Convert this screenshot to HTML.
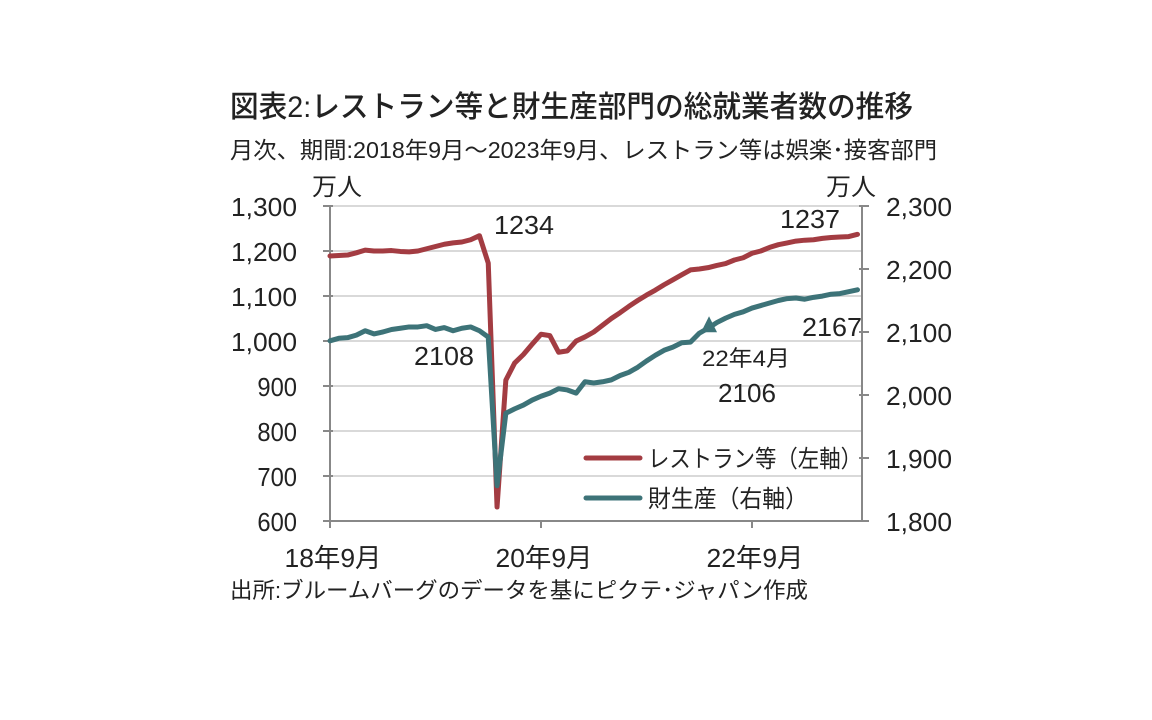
<!DOCTYPE html>
<html><head><meta charset="utf-8">
<style>
html,body{margin:0;padding:0;background:#fff;width:1152px;height:720px;overflow:hidden}
svg text{font-family:"Liberation Sans","Noto Sans CJK JP",sans-serif;fill:#222}
</style></head>
<body>
<svg id="chart" width="1152" height="720" viewBox="0 0 1152 720" xmlns="http://www.w3.org/2000/svg">
<text x="230" y="117" font-size="30" font-weight="500" textLength="683" lengthAdjust="spacingAndGlyphs">図表2:レストラン等と財生産部門の総就業者数の推移</text>
<text x="230" y="158" font-size="23" textLength="707" lengthAdjust="spacingAndGlyphs">月次、期間:2018年9月～2023年9月、レストラン等は娯楽･接客部門</text>
<text x="312" y="195" font-size="24" textLength="50" lengthAdjust="spacingAndGlyphs">万人</text>
<text x="826" y="195" font-size="24" textLength="50" lengthAdjust="spacingAndGlyphs">万人</text>
<g id="grid"></g>
<g id="axes"></g>
<g id="series"></g>
<text x="494" y="234" font-size="26" textLength="60" lengthAdjust="spacingAndGlyphs">1234</text>
<text x="414" y="365" font-size="26" textLength="60" lengthAdjust="spacingAndGlyphs">2108</text>
<text x="780" y="228" font-size="26" textLength="60" lengthAdjust="spacingAndGlyphs">1237</text>
<text x="802" y="336" font-size="26" textLength="60" lengthAdjust="spacingAndGlyphs">2167</text>
<text x="702" y="366" font-size="22" textLength="88" lengthAdjust="spacingAndGlyphs">22年4月</text>
<text x="718" y="402" font-size="26" textLength="58" lengthAdjust="spacingAndGlyphs">2106</text>
<g>
<line x1="586" y1="458" x2="640" y2="458" stroke="#a33c42" stroke-width="5" stroke-linecap="round"/>
<text x="648" y="467" font-size="24" textLength="214" lengthAdjust="spacingAndGlyphs">レストラン等（左軸）</text>
<line x1="586" y1="498" x2="640" y2="498" stroke="#3d7378" stroke-width="5" stroke-linecap="round"/>
<text x="648" y="507" font-size="24" textLength="160" lengthAdjust="spacingAndGlyphs">財生産（右軸）</text>
</g>
<text x="230" y="598" font-size="22" textLength="578" lengthAdjust="spacingAndGlyphs">出所:ブルームバーグのデータを基にピクテ･ジャパン作成</text>
</svg>
<script>
const restaurant=[1189,1190,1191,1196,1202,1200,1200,1201,1199,1198,1200,1205,1210,1215,1218,1220,1225,1234,1173,631,913,951,970,993,1015,1012,975,978,1000,1009,1020,1035,1050,1063,1077,1090,1102,1113,1125,1136,1147,1158,1160,1163,1168,1172,1180,1185,1195,1200,1208,1214,1218,1222,1224,1225,1228,1230,1231,1232,1237];
const goods=[2086,2090,2091,2095,2102,2097,2100,2104,2106,2108,2108,2110,2104,2107,2102,2106,2108,2102,2092,1856,1971,1978,1984,1992,1998,2003,2010,2008,2003,2021,2019,2021,2024,2031,2036,2044,2054,2063,2071,2076,2083,2084,2098,2106,2115,2122,2128,2132,2138,2142,2146,2150,2153,2154,2152,2155,2157,2160,2161,2164,2167];
const leftTicks=[600,700,800,900,1000,1100,1200,1300];
const rightTicks=[1800,1900,2000,2100,2200,2300];
const xTickIdx=[0,24,48];
const xTickLabels=["18年9月","20年9月","22年9月"];
const markerIdx=43;

const NS="http://www.w3.org/2000/svg";
const X0=330,X1=862,Y0=521,Y1=206;
const xs=i=>X0+i*(857.5-X0)/60;
const yl=v=>Y0-(v-600)*(Y0-Y1)/700;
const yr=v=>Y0-(v-1800)*(Y0-Y1)/500;
function mk(tag,attrs,parent){const e=document.createElementNS(NS,tag);for(const k in attrs)e.setAttribute(k,attrs[k]);parent.appendChild(e);return e;}
const grid=document.getElementById('grid'),axes=document.getElementById('axes'),series=document.getElementById('series');
leftTicks.forEach(v=>{
  if(v>600){const g=mk('line',{x1:X0,x2:X1,y1:yl(v),y2:yl(v),stroke:'#d9d9d9','stroke-width':2},grid);
  
  }
  const t=mk('line',{x1:X0-7,x2:X0+3,y1:yl(v),y2:yl(v),stroke:'#888','stroke-width':2},axes);
  
  
  const s=v.toLocaleString('en-US');
  const l=mk('text',{x:297,y:yl(v)+10,'font-size':26,'text-anchor':'end',textLength:s.length*13.2,lengthAdjust:'spacingAndGlyphs'},axes);
  l.textContent=s;
  
  
});
rightTicks.forEach(v=>{
  const t=mk('line',{x1:X1-3,x2:X1+7,y1:yr(v),y2:yr(v),stroke:'#888','stroke-width':2},axes);
  
  
  const s=v.toLocaleString('en-US');
  const l=mk('text',{x:X1+24,y:yr(v)+10,'font-size':26,textLength:s.length*13.2,lengthAdjust:'spacingAndGlyphs'},axes);
  l.textContent=s;
  
  
});
xTickIdx.forEach((i,k)=>{
  const t=mk('line',{x1:xs(i),x2:xs(i),y1:Y0,y2:Y0+7,stroke:'#888','stroke-width':2},axes);
  
  
  const l=mk('text',{x:xs(i)+3,y:Y0+46,'font-size':26,'text-anchor':'middle',textLength:97,lengthAdjust:'spacingAndGlyphs'},axes);
  l.textContent=xTickLabels[k];
  
  
});
const la=mk('line',{x1:X0,x2:X0,y1:Y1,y2:Y0,stroke:'#888','stroke-width':2},axes);


const ra=mk('line',{x1:X1,x2:X1,y1:Y1,y2:Y0,stroke:'#888','stroke-width':2},axes);


const ba=mk('line',{x1:X0,x2:X1,y1:Y0,y2:Y0,stroke:'#888','stroke-width':2},axes);


const pr=mk('polyline',{points:restaurant.map((v,i)=>xs(i)+','+yl(v)).join(' '),fill:'none',stroke:'#a33c42','stroke-width':5,'stroke-linejoin':'round','stroke-linecap':'round'},series);


const pg=mk('polyline',{points:goods.map((v,i)=>xs(i)+','+yr(v)).join(' '),fill:'none',stroke:'#3d7378','stroke-width':5,'stroke-linejoin':'round','stroke-linecap':'round'},series);


const mx=xs(markerIdx),my=yr(goods[markerIdx]);
const m=mk('polygon',{points:`${mx-7},${my+4} ${mx+1},${my-12} ${mx+9},${my+4}`,fill:'#3d7378'},series);


</script>
</body></html>
